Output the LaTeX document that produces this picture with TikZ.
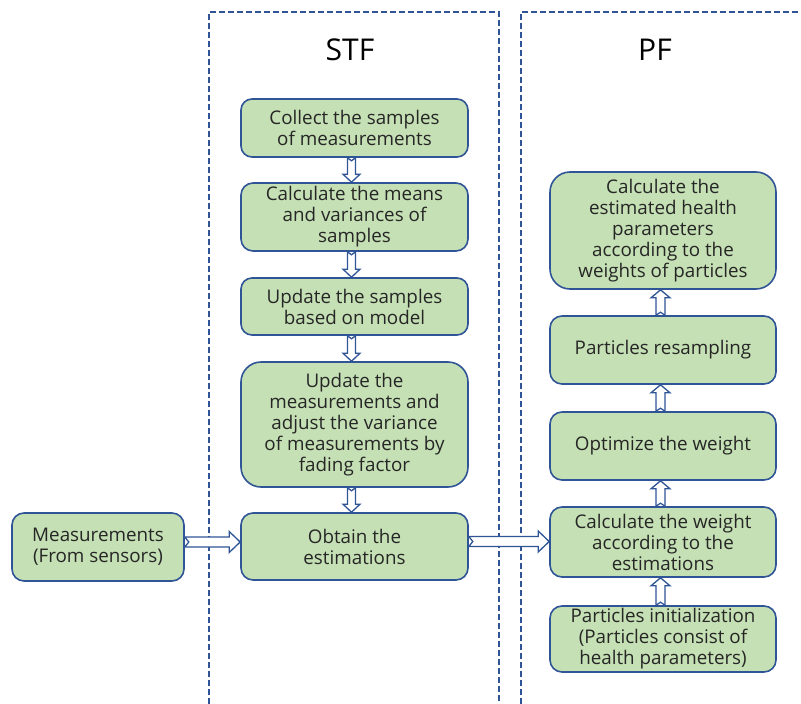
\documentclass[tikz,border=0pt]{standalone}
\usepackage{fontspec}
\setmainfont{Open Sans}
\usetikzlibrary{calc}
\definecolor{boxgreen}{HTML}{C5E0B4}
\definecolor{boxblue}{HTML}{2F5597}
\definecolor{txt}{HTML}{262626}
\tikzset{
  proc/.style={draw=boxblue, line width=1.6pt, fill=boxgreen, rectangle,
    align=center, text=txt, inner sep=0pt,
    font=\fontsize{18.8}{21}\selectfont},
  frame/.style={draw=boxblue, line width=2pt, dash pattern=on 6pt off 3pt},
  hollow/.style={draw=boxblue, line width=1.3pt, fill=white, line join=miter},
  title/.style={font=\fontsize{30}{32}\selectfont, text=black}
}
\newcommand{\arrdown}[2]{%
  \draw[hollow] let \p1=(#1), \p2=(#2) in
    (\x1-4pt,\y1) -- (\x1,\y1-3pt) -- (\x1+4pt,\y1) -- (\x1+4pt,\y2+8pt)
    -- (\x1+8.5pt,\y2+8pt) -- (\x1,\y2) -- (\x1-8.5pt,\y2+8pt)
    -- (\x1-4pt,\y2+8pt) -- cycle;}
\newcommand{\arrup}[2]{%
  \draw[hollow] let \p1=(#1), \p2=(#2) in
    (\x1-4.5pt,\y1) -- (\x1,\y1+3pt) -- (\x1+4.5pt,\y1) -- (\x1+4.5pt,\y2-8pt)
    -- (\x1+9.5pt,\y2-8pt) -- (\x1,\y2) -- (\x1-9.5pt,\y2-8pt)
    -- (\x1-4.5pt,\y2-8pt) -- cycle;}
\newcommand{\arrright}[2]{%
  \draw[hollow] let \p1=(#1), \p2=(#2) in
    (\x1,\y1+5pt) -- (\x1+4pt,\y1) -- (\x1,\y1-5pt) -- (\x2-11pt,\y1-5pt)
    -- (\x2-11pt,\y1-10.5pt) -- (\x2,\y1) -- (\x2-11pt,\y1+10.5pt)
    -- (\x2-11pt,\y1+5pt) -- cycle;}
\begin{document}
\begin{tikzpicture}[x=1pt,y=-1pt]
\useasboundingbox (0,0) rectangle (801,704);
% frames
\draw[frame] (209,704) -- (209,12) -- (499,12) -- (499,704);
\draw[frame] (521,704) -- (521,12) -- (801,12);
\node[title] (stf) at (350,50) {STF};
\node[title] (pf) at (655,50) {PF};
% STF nodes
\node[proc, minimum width=227pt, minimum height=58pt, rounded corners=11pt] (s1) at (354.5,128) {Collect the samples\\of measurements};
\node[proc, minimum width=227pt, minimum height=68pt, rounded corners=12pt] (s2) at (354.5,217) {Calculate the means\\and variances of\\samples};
\node[proc, minimum width=227pt, minimum height=57pt, rounded corners=11pt] (s3) at (354.5,306.5) {Update the samples\\based on model};
\node[proc, minimum width=227pt, minimum height=125pt, rounded corners=20pt] (s4) at (354.5,424.5) {Update the\\measurements and\\adjust the variance\\of measurements by\\fading factor};
\node[proc, minimum width=227pt, minimum height=67pt, rounded corners=12pt] (s5) at (354.5,546.5) {Obtain the\\estimations};
\node[proc, minimum width=172pt, minimum height=68pt, rounded corners=12pt] (m) at (98,547) {Measurements\\(From sensors)};
% PF nodes
\node[proc, minimum width=226pt, minimum height=117pt, rounded corners=20pt] (p1) at (663,230.5) {Calculate the\\estimated health\\parameters\\according to the\\weights of particles};
\node[proc, minimum width=226pt, minimum height=68pt, rounded corners=12pt] (p2) at (663,350) {Particles resampling};
\node[proc, minimum width=226pt, minimum height=68pt, rounded corners=12pt] (p3) at (663,446) {Optimize the weight};
\node[proc, minimum width=226pt, minimum height=70pt, rounded corners=12pt] (p4) at (663,542) {Calculate the weight\\according to the\\estimations};
\node[proc, minimum width=226pt, minimum height=66pt, rounded corners=12pt] (p5) at (663,639) {Particles initialization\\(Particles consist of\\health parameters)};
% arrows
\arrdown{$(s1.south)+(-3,0)$}{$(s2.north)+(-3,0)$}
\arrdown{$(s2.south)+(-3,0)$}{$(s3.north)+(-3,0)$}
\arrdown{$(s3.south)+(-3,0)$}{$(s4.north)+(-3,0)$}
\arrdown{$(s4.south)+(-3,0)$}{$(s5.north)+(-3,0)$}
\arrright{$(m.east)+(0,-5)$}{$(s5.west)+(0,-5)$}
\arrright{$(s5.east)+(0,-5)$}{$(p4.west)+(0,-5)$}
\arrup{$(p5.north)+(-2.5,0)$}{$(p4.south)+(-2.5,0)$}
\arrup{$(p4.north)+(-2.5,0)$}{$(p3.south)+(-2.5,0)$}
\arrup{$(p3.north)+(-2.5,0)$}{$(p2.south)+(-2.5,0)$}
\arrup{$(p2.north)+(-2.5,0)$}{$(p1.south)+(-2.5,0)$}
\end{tikzpicture}
\end{document}
